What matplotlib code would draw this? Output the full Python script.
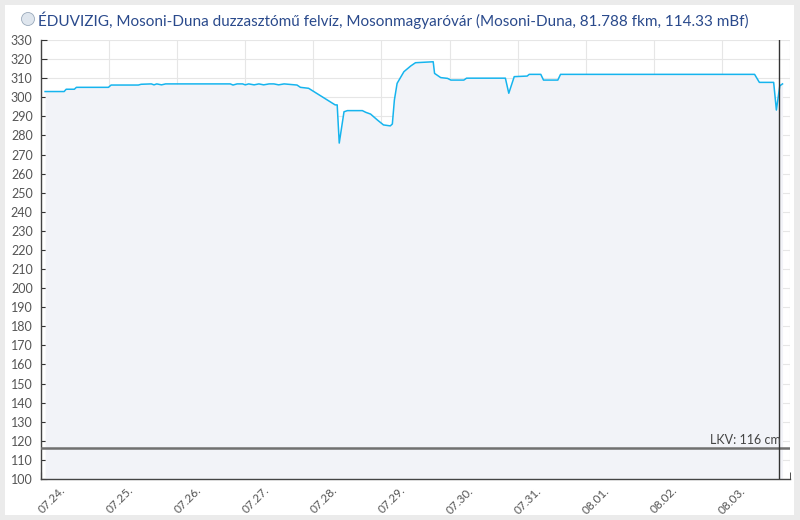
import numpy as np
import matplotlib
matplotlib.use("Agg")
import matplotlib.pyplot as plt
from matplotlib.patches import Rectangle, Ellipse
from matplotlib.transforms import ScaledTranslation

plt.rcParams["font.family"] = ["Lato", "DejaVu Sans"]

title = "ÉDUVIZIG, Mosoni-Duna duzzasztómű felvíz, Mosonmagyaróvár (Mosoni-Duna, 81.788 fkm, 114.33 mBf)"
day_labels = ["07.24.", "07.25.", "07.26.", "07.27.", "07.28.", "07.29.",
              "07.30.", "07.31.", "08.01.", "08.02.", "08.03."]
# time in days since 07.24. 00:00, water level in cm
t_day = [0.06, 0.34, 0.37, 0.49, 0.52, 0.99, 1.03, 1.43, 1.47, 1.62, 1.66, 1.70,
         1.77, 1.83, 2.78, 2.82, 2.88, 2.96, 3.00, 3.05, 3.13, 3.20, 3.27, 3.35,
         3.42, 3.49, 3.57, 3.76, 3.81, 3.93, 4.32, 4.35, 4.38, 4.45, 4.50, 4.72,
         4.77, 4.84, 4.94, 5.03, 5.13, 5.16, 5.19, 5.23, 5.33, 5.43, 5.50, 5.76,
         5.78, 5.87, 5.97, 6.02, 6.21, 6.25, 6.82, 6.87, 6.95, 7.14, 7.17, 7.34,
         7.38, 7.59, 7.63, 10.48, 10.55, 10.76, 10.80, 10.85, 10.89]
level = [303, 303, 304.2, 304.2, 305.2, 305.2, 306.4, 306.4, 306.8, 307, 306.5, 307,
         306.5, 307, 307, 306.4, 307, 307, 306.5, 307, 306.5, 307, 306.5, 307,
         307, 306.5, 307, 306.4, 305.2, 304.7, 296, 296, 276, 292.4, 293, 293,
         292.1, 291.2, 288.1, 285.5, 285, 286, 298.6, 307.3, 313.4, 316.4, 318.1, 318.6,
         312.5, 310.3, 309.9, 309, 309, 310, 310, 302.1, 310.8, 311.1, 312, 312,
         309, 309, 312, 312, 307.8, 307.8, 293.3, 306, 307]
lkv = 116
now_day = 10.84

W, H = 800, 520
fig = plt.figure(figsize=(W / 100, H / 100), dpi=100, facecolor="#ebebeb")
fig.patches.append(Rectangle((5 / W, 5 / H), 789 / W, 510 / H, transform=fig.transFigure,
                             facecolor="white", edgecolor="none", zorder=-10))
fig.patches.append(Ellipse((28 / W, 1 - 19 / H), 13 / W, 13 / H, transform=fig.transFigure,
                           facecolor="#dfe6ee", edgecolor="#9aaabb", lw=0.6))
fig.text(38 / W, 1 - 20 / H, title, color="#2a4a8c", fontsize=11, va="center", ha="left")

ax = fig.add_axes([41 / W, 41 / H, 749 / W, 439 / H])
ax.set_facecolor("white")
ax.fill_between(t_day, level, 100, color="#f2f3f8", lw=0, zorder=1)
ax.plot(t_day, level, color="#16b4ee", lw=1.1, zorder=3)
ax.axhline(lkv, color="#707070", lw=1.8, zorder=4)
ax.text(10.86, lkv + 1.5, "LKV: %d cm" % lkv, ha="right", va="bottom", fontsize=9, color="#444444", zorder=5)
ax.axvline(now_day, color="#333333", lw=1.0, zorder=4)

ax.set_xlim(0, 11)
ax.set_ylim(100, 330)
ax.set_yticks(np.arange(100, 331, 10))
ax.set_xticks(range(len(day_labels)))
ax.set_xticklabels(day_labels, rotation=45, ha="right", va="center", rotation_mode="anchor")
ax.set_xticks(range(12), minor=True)
ax.grid(True, which="both", color="#e6e6e6", lw=0.8, zorder=0)
ax.set_axisbelow(True)
ax.tick_params(axis="y", direction="in", length=4, color="#333333", labelsize=9, labelcolor="#555555", pad=6)
ax.tick_params(axis="x", which="both", direction="in", length=5, color="#333333", labelsize=8.5, labelcolor="#555555", pad=7)
for lab in ax.get_xticklabels():
    lab.set_transform(lab.get_transform() + ScaledTranslation(0.22, 0, fig.dpi_scale_trans))
for s in ["top", "right"]:
    ax.spines[s].set_visible(False)
for s in ["left", "bottom"]:
    ax.spines[s].set_color("#444444")
    ax.spines[s].set_linewidth(1.0)

fig.savefig("out.png", dpi=100, facecolor=fig.get_facecolor())
